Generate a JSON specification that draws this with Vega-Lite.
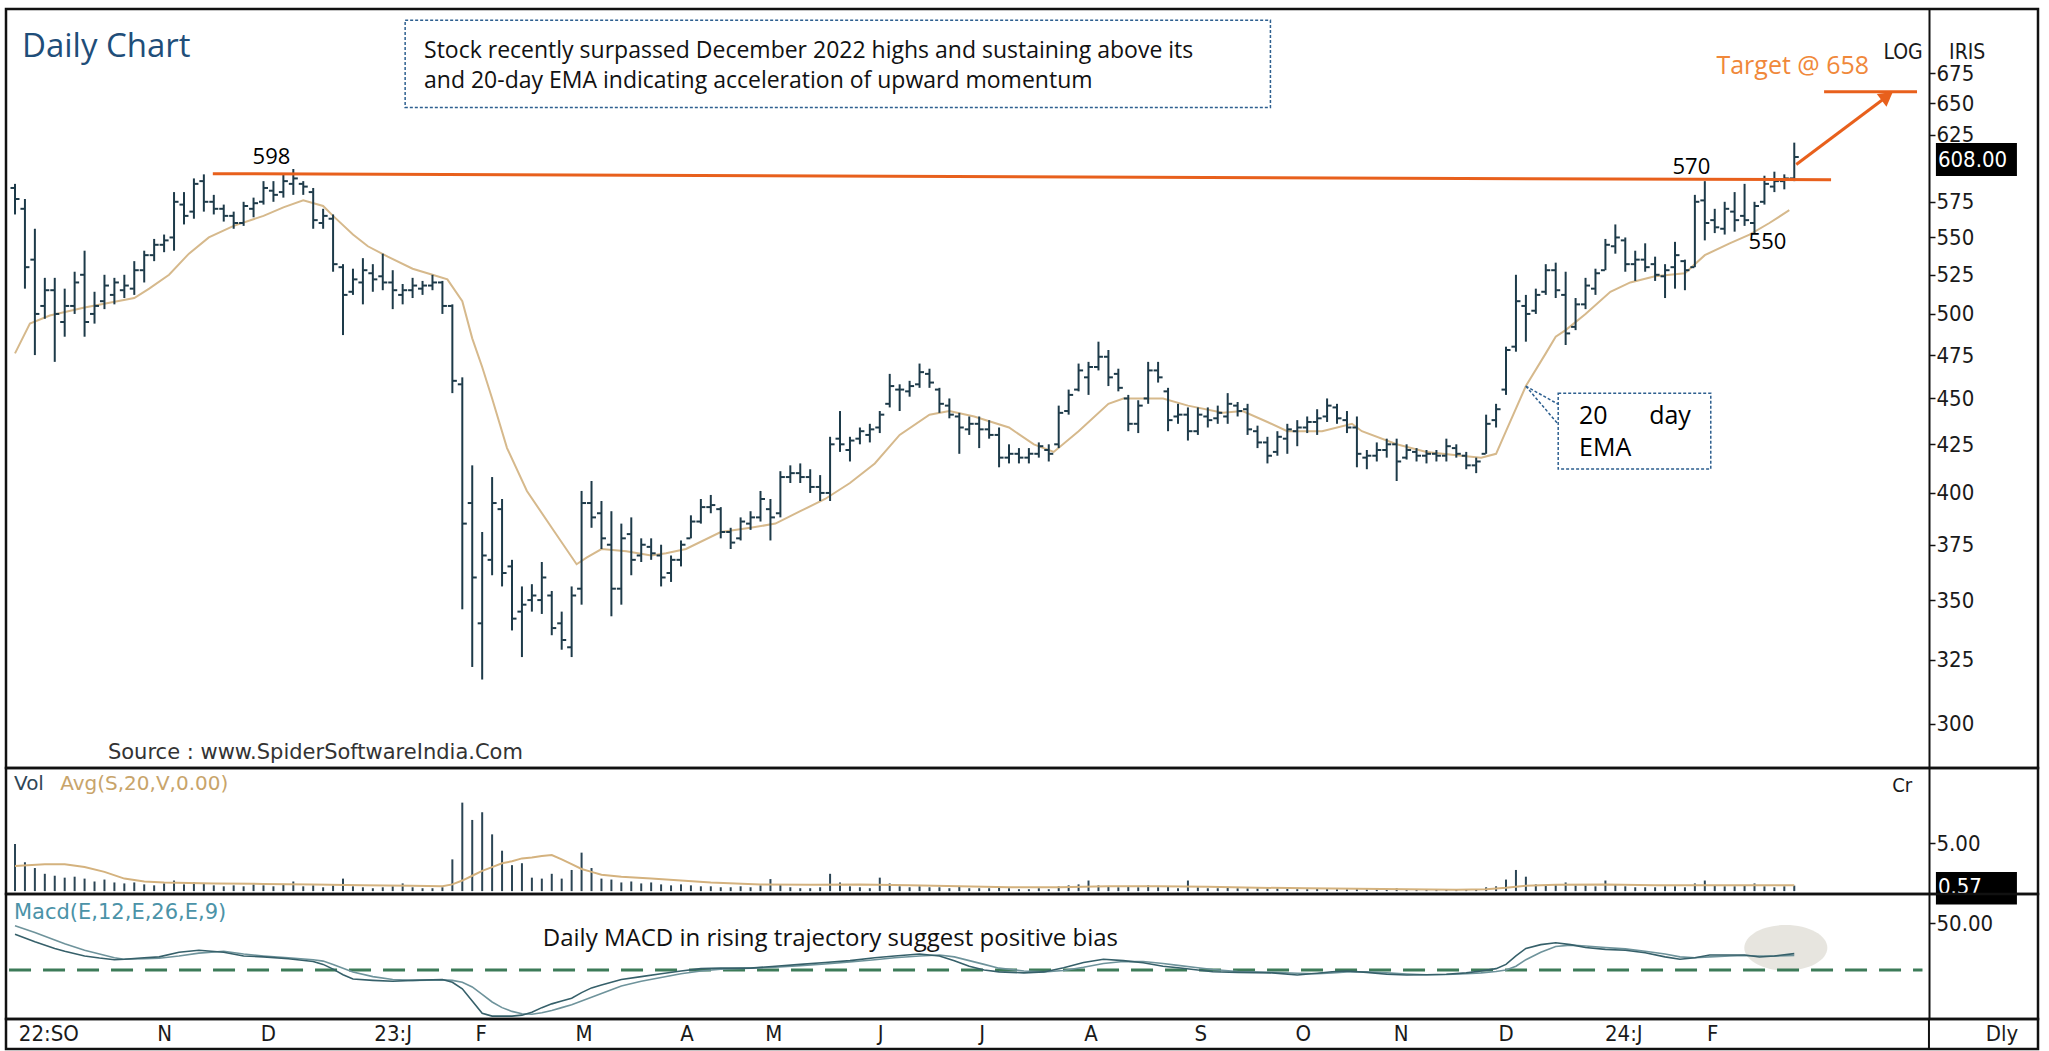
{
"$schema": "https://vega.github.io/schema/vega-lite/v6.json",
"background": "white",
"padding": {"left": 4, "top": 7, "right": 4, "bottom": 2},
"spacing": 0,
"bounds": "flush",
"config": {
  "view": {"stroke": "#111111", "strokeWidth": 2.5},
  "axis": {"labelFont": "DejaVu Sans Condensed, Liberation Sans Narrow, DejaVu Sans", "labelFontSize": 22, "labelColor": "#1a1a1a", "domainColor": "#111111", "domainWidth": 2, "tickColor": "#111111", "tickSize": 6, "tickWidth": 1.5, "labelPadding": 1, "grid": false, "labelOverlap": false, "labelFlush": false}
},
"datasets": {
  "bars": [
    {"t":0,"o":585,"h":588,"l":566,"c":577,"v":4.9},{"t":2,"o":570,"h":577,"l":516,"c":530,"v":3.0},{"t":4,"o":535,"h":556,"l":475,"c":500,"v":2.4},{"t":6,"o":505,"h":523,"l":497,"c":515,"v":1.8},{"t":8,"o":515,"h":523,"l":471,"c":500,"v":1.6},{"t":10,"o":495,"h":516,"l":486,"c":505,"v":1.4},{"t":12,"o":505,"h":527,"l":500,"c":520,"v":1.5},{"t":14,"o":525,"h":541,"l":486,"c":495,"v":1.3},{"t":16,"o":500,"h":514,"l":494,"c":505,"v":1.0},{"t":18,"o":508,"h":525,"l":503,"c":518,"v":1.2},
    {"t":20,"o":512,"h":523,"l":506,"c":520,"v":0.9},{"t":22,"o":515,"h":525,"l":510,"c":518,"v":0.8},{"t":24,"o":516,"h":534,"l":512,"c":528,"v":0.9},{"t":26,"o":528,"h":541,"l":520,"c":538,"v":0.7},{"t":28,"o":538,"h":549,"l":534,"c":545,"v":0.6},{"t":30,"o":545,"h":552,"l":540,"c":548,"v":0.8},{"t":32,"o":550,"h":582,"l":541,"c":575,"v":1.1},{"t":34,"o":573,"h":582,"l":559,"c":565,"v":0.7},{"t":36,"o":568,"h":592,"l":563,"c":588,"v":0.9},{"t":38,"o":590,"h":595,"l":568,"c":575,"v":0.8},
    {"t":40,"o":575,"h":580,"l":566,"c":570,"v":0.6},{"t":42,"o":570,"h":573,"l":561,"c":565,"v":0.5},{"t":44,"o":565,"h":568,"l":556,"c":560,"v":0.6},{"t":46,"o":560,"h":575,"l":558,"c":572,"v":0.5},{"t":48,"o":570,"h":578,"l":564,"c":574,"v":0.7},{"t":50,"o":575,"h":590,"l":573,"c":585,"v":0.6},{"t":52,"o":583,"h":590,"l":575,"c":580,"v":0.5},{"t":54,"o":582,"h":595,"l":578,"c":590,"v":0.7},{"t":56,"o":588,"h":599,"l":580,"c":592,"v":1.0},{"t":58,"o":588,"h":590,"l":580,"c":586,"v":0.5},
    {"t":60,"o":582,"h":585,"l":556,"c":562,"v":0.6},{"t":62,"o":560,"h":570,"l":556,"c":565,"v":0.4},{"t":64,"o":563,"h":566,"l":527,"c":532,"v":0.6},{"t":66,"o":530,"h":532,"l":487,"c":512,"v":1.3},{"t":68,"o":514,"h":529,"l":512,"c":522,"v":0.5},{"t":70,"o":520,"h":536,"l":506,"c":528,"v":0.4},{"t":72,"o":526,"h":532,"l":514,"c":522,"v":0.3},{"t":74,"o":524,"h":539,"l":515,"c":520,"v":0.4},{"t":76,"o":520,"h":528,"l":503,"c":515,"v":0.5},{"t":78,"o":512,"h":519,"l":506,"c":515,"v":0.8},
    {"t":80,"o":515,"h":523,"l":510,"c":518,"v":0.4},{"t":82,"o":516,"h":521,"l":512,"c":518,"v":0.3},{"t":84,"o":518,"h":525,"l":515,"c":520,"v":0.3},{"t":86,"o":520,"h":521,"l":500,"c":505,"v":0.4},{"t":88,"o":505,"h":506,"l":453,"c":460,"v":3.3},{"t":90,"o":458,"h":462,"l":346,"c":385,"v":9.2},{"t":92,"o":395,"h":414,"l":322,"c":360,"v":7.4},{"t":94,"o":340,"h":381,"l":317,"c":370,"v":8.2},{"t":96,"o":368,"h":408,"l":361,"c":395,"v":5.9},{"t":98,"o":392,"h":397,"l":356,"c":362,"v":4.2},
    {"t":100,"o":365,"h":368,"l":337,"c":342,"v":2.7},{"t":102,"o":345,"h":356,"l":326,"c":348,"v":2.9},{"t":104,"o":350,"h":357,"l":345,"c":352,"v":1.4},{"t":106,"o":350,"h":367,"l":344,"c":360,"v":1.3},{"t":108,"o":352,"h":354,"l":335,"c":338,"v":1.8},{"t":110,"o":340,"h":345,"l":329,"c":333,"v":1.3},{"t":112,"o":330,"h":356,"l":326,"c":352,"v":2.2},{"t":114,"o":355,"h":401,"l":348,"c":395,"v":4.0},{"t":116,"o":395,"h":406,"l":383,"c":388,"v":2.4},{"t":118,"o":390,"h":396,"l":373,"c":378,"v":1.3},
    {"t":120,"o":375,"h":391,"l":343,"c":355,"v":1.2},{"t":122,"o":355,"h":385,"l":348,"c":378,"v":0.9},{"t":124,"o":380,"h":388,"l":361,"c":368,"v":1.0},{"t":126,"o":370,"h":378,"l":367,"c":375,"v":0.8},{"t":128,"o":374,"h":378,"l":368,"c":371,"v":0.9},{"t":130,"o":370,"h":375,"l":356,"c":360,"v":0.7},{"t":132,"o":362,"h":370,"l":358,"c":368,"v":0.6},{"t":134,"o":368,"h":377,"l":365,"c":375,"v":0.7},{"t":136,"o":378,"h":389,"l":378,"c":386,"v":0.6},{"t":138,"o":386,"h":397,"l":385,"c":393,"v":0.5},
    {"t":140,"o":393,"h":399,"l":390,"c":394,"v":0.5},{"t":142,"o":392,"h":393,"l":378,"c":381,"v":0.4},{"t":144,"o":381,"h":383,"l":373,"c":376,"v":0.4},{"t":146,"o":378,"h":388,"l":377,"c":386,"v":0.5},{"t":148,"o":385,"h":391,"l":382,"c":388,"v":0.4},{"t":150,"o":388,"h":401,"l":386,"c":397,"v":0.6},{"t":152,"o":392,"h":397,"l":377,"c":388,"v":1.25},{"t":154,"o":390,"h":411,"l":388,"c":408,"v":0.7},{"t":156,"o":408,"h":414,"l":405,"c":410,"v":0.4},{"t":158,"o":410,"h":415,"l":405,"c":408,"v":0.3},
    {"t":160,"o":408,"h":412,"l":400,"c":403,"v":0.3},{"t":162,"o":403,"h":409,"l":396,"c":400,"v":0.4},{"t":164,"o":400,"h":429,"l":396,"c":425,"v":1.8},{"t":166,"o":428,"h":443,"l":421,"c":425,"v":0.9},{"t":168,"o":422,"h":429,"l":416,"c":427,"v":0.5},{"t":170,"o":428,"h":434,"l":425,"c":432,"v":0.4},{"t":172,"o":430,"h":436,"l":426,"c":433,"v":0.3},{"t":174,"o":434,"h":443,"l":431,"c":441,"v":1.4},{"t":176,"o":447,"h":464,"l":445,"c":457,"v":0.8},{"t":178,"o":455,"h":458,"l":443,"c":455,"v":0.5},
    {"t":180,"o":454,"h":460,"l":451,"c":457,"v":0.4},{"t":182,"o":458,"h":470,"l":456,"c":465,"v":0.5},{"t":184,"o":464,"h":467,"l":456,"c":459,"v":0.4},{"t":186,"o":455,"h":456,"l":442,"c":447,"v":0.4},{"t":188,"o":446,"h":450,"l":439,"c":441,"v":0.3},{"t":190,"o":440,"h":442,"l":420,"c":434,"v":0.5},{"t":192,"o":433,"h":440,"l":430,"c":436,"v":0.3},{"t":194,"o":436,"h":440,"l":423,"c":433,"v":0.3},{"t":196,"o":433,"h":438,"l":428,"c":430,"v":0.3},{"t":198,"o":430,"h":434,"l":413,"c":418,"v":0.4},
    {"t":200,"o":418,"h":425,"l":415,"c":420,"v":0.3},{"t":202,"o":420,"h":423,"l":415,"c":418,"v":0.2},{"t":204,"o":418,"h":423,"l":415,"c":420,"v":0.2},{"t":206,"o":420,"h":426,"l":418,"c":424,"v":0.3},{"t":208,"o":422,"h":425,"l":416,"c":420,"v":0.2},{"t":210,"o":425,"h":446,"l":423,"c":442,"v":0.5},{"t":212,"o":443,"h":455,"l":441,"c":452,"v":0.6},{"t":214,"o":455,"h":470,"l":454,"c":466,"v":0.7},{"t":216,"o":462,"h":471,"l":452,"c":468,"v":1.1},{"t":218,"o":468,"h":483,"l":466,"c":474,"v":0.6},
    {"t":220,"o":474,"h":478,"l":457,"c":462,"v":0.5},{"t":222,"o":464,"h":467,"l":454,"c":456,"v":0.4},{"t":224,"o":450,"h":452,"l":432,"c":436,"v":0.5},{"t":226,"o":436,"h":449,"l":431,"c":446,"v":0.4},{"t":228,"o":450,"h":471,"l":447,"c":466,"v":0.6},{"t":230,"o":466,"h":471,"l":459,"c":462,"v":0.4},{"t":232,"o":454,"h":456,"l":432,"c":438,"v":0.5},{"t":234,"o":440,"h":447,"l":436,"c":441,"v":0.3},{"t":236,"o":441,"h":445,"l":427,"c":432,"v":1.1},{"t":238,"o":432,"h":445,"l":430,"c":441,"v":0.4},
    {"t":240,"o":440,"h":445,"l":434,"c":438,"v":0.3},{"t":242,"o":439,"h":446,"l":436,"c":442,"v":0.3},{"t":244,"o":440,"h":453,"l":436,"c":447,"v":0.4},{"t":246,"o":446,"h":448,"l":440,"c":443,"v":0.3},{"t":248,"o":444,"h":447,"l":430,"c":433,"v":0.3},{"t":250,"o":432,"h":435,"l":423,"c":426,"v":0.3},{"t":252,"o":426,"h":429,"l":415,"c":419,"v":0.4},{"t":254,"o":421,"h":432,"l":419,"c":429,"v":0.3},{"t":256,"o":428,"h":436,"l":420,"c":433,"v":0.3},{"t":258,"o":432,"h":438,"l":424,"c":434,"v":0.2},
    {"t":260,"o":434,"h":440,"l":431,"c":437,"v":0.2},{"t":262,"o":437,"h":444,"l":430,"c":439,"v":0.3},{"t":264,"o":440,"h":450,"l":437,"c":446,"v":0.3},{"t":266,"o":445,"h":447,"l":436,"c":439,"v":0.2},{"t":268,"o":438,"h":443,"l":431,"c":434,"v":0.2},{"t":270,"o":434,"h":440,"l":413,"c":420,"v":0.3},{"t":272,"o":418,"h":422,"l":412,"c":419,"v":0.2},{"t":274,"o":419,"h":426,"l":416,"c":422,"v":0.2},{"t":276,"o":422,"h":428,"l":418,"c":425,"v":0.2},{"t":278,"o":425,"h":428,"l":406,"c":416,"v":0.3},
    {"t":280,"o":418,"h":425,"l":417,"c":422,"v":0.1},{"t":282,"o":421,"h":423,"l":416,"c":419,"v":0.1},{"t":284,"o":419,"h":422,"l":415,"c":420,"v":0.1},{"t":286,"o":420,"h":422,"l":416,"c":419,"v":0.1},{"t":288,"o":419,"h":428,"l":416,"c":424,"v":0.2},{"t":290,"o":423,"h":425,"l":418,"c":420,"v":0.1},{"t":292,"o":419,"h":421,"l":412,"c":414,"v":0.1},{"t":294,"o":414,"h":418,"l":410,"c":416,"v":0.2},{"t":296,"o":420,"h":441,"l":420,"c":436,"v":0.4},{"t":298,"o":438,"h":447,"l":434,"c":444,"v":0.5},
    {"t":300,"o":455,"h":480,"l":452,"c":478,"v":1.2},{"t":302,"o":480,"h":525,"l":477,"c":508,"v":2.2},{"t":304,"o":505,"h":512,"l":483,"c":500,"v":1.5},{"t":306,"o":502,"h":516,"l":500,"c":512,"v":0.7},{"t":308,"o":514,"h":532,"l":512,"c":528,"v":0.6},{"t":310,"o":528,"h":533,"l":510,"c":515,"v":0.7},{"t":312,"o":512,"h":527,"l":481,"c":488,"v":0.9},{"t":314,"o":492,"h":510,"l":490,"c":506,"v":0.6},{"t":316,"o":506,"h":523,"l":503,"c":518,"v":0.6},{"t":318,"o":516,"h":529,"l":512,"c":526,"v":0.5},
    {"t":320,"o":528,"h":549,"l":528,"c":545,"v":1.1},{"t":322,"o":544,"h":559,"l":539,"c":550,"v":0.7},{"t":324,"o":548,"h":550,"l":527,"c":532,"v":0.5},{"t":326,"o":532,"h":541,"l":521,"c":535,"v":0.4},{"t":328,"o":535,"h":546,"l":527,"c":530,"v":0.4},{"t":330,"o":532,"h":537,"l":521,"c":525,"v":0.4},{"t":332,"o":524,"h":532,"l":510,"c":528,"v":0.5},{"t":334,"o":530,"h":547,"l":516,"c":538,"v":0.5},{"t":336,"o":534,"h":535,"l":515,"c":528,"v":0.4},{"t":338,"o":530,"h":580,"l":530,"c":575,"v":0.8},
    {"t":340,"o":576,"h":590,"l":548,"c":560,"v":1.1},{"t":342,"o":562,"h":570,"l":553,"c":557,"v":0.6},{"t":344,"o":556,"h":575,"l":552,"c":570,"v":0.5},{"t":346,"o":568,"h":582,"l":554,"c":562,"v":0.5},{"t":348,"o":565,"h":588,"l":558,"c":562,"v":0.6},{"t":350,"o":560,"h":575,"l":553,"c":572,"v":0.8},{"t":352,"o":575,"h":594,"l":573,"c":588,"v":0.5},{"t":354,"o":586,"h":597,"l":582,"c":590,"v":0.4},{"t":356,"o":590,"h":595,"l":584,"c":592,"v":0.5},{"t":358,"o":592,"h":619,"l":590,"c":608,"v":0.57}
  ],
  "ema": [
    {"t":0,"e":476},{"t":3,"e":494},{"t":7,"e":499},{"t":14,"e":504},{"t":19,"e":507},{"t":24,"e":510},{"t":27,"e":516},{"t":31,"e":525},{"t":35,"e":539},{"t":39,"e":550},{"t":44,"e":558},{"t":50,"e":565},{"t":54,"e":571},{"t":58,"e":576},{"t":62,"e":572},{"t":64,"e":565},{"t":68,"e":552},{"t":71,"e":544},{"t":75,"e":537},{"t":80,"e":529},{"t":84,"e":525},{"t":87,"e":522},{"t":90,"e":508},{"t":92,"e":485},{"t":94,"e":468},{"t":96,"e":450},{"t":99,"e":423},{"t":103,"e":401},{"t":108,"e":383},{"t":113,"e":366},{"t":115,"e":369},{"t":118,"e":373},{"t":123,"e":372},{"t":128,"e":370},{"t":131,"e":371},{"t":135,"e":373},{"t":142,"e":381},{"t":148,"e":383},{"t":153,"e":385},{"t":158,"e":391},{"t":163,"e":397},{"t":168,"e":405},{"t":173,"e":415},{"t":178,"e":430},{"t":184,"e":441},{"t":188,"e":443},{"t":193,"e":440},{"t":200,"e":434},{"t":205,"e":425},{"t":209,"e":421},{"t":214,"e":432},{"t":220,"e":447},{"t":223,"e":450},{"t":228,"e":450},{"t":231,"e":450},{"t":236,"e":446},{"t":243,"e":442},{"t":247,"e":443},{"t":252,"e":437},{"t":256,"e":432},{"t":263,"e":432},{"t":269,"e":436},{"t":271,"e":432},{"t":278,"e":425},{"t":284,"e":421},{"t":291,"e":419},{"t":295,"e":418},{"t":298,"e":420},{"t":300,"e":432},{"t":304,"e":457},{"t":308,"e":476},{"t":310,"e":486},{"t":312,"e":490},{"t":316,"e":500},{"t":321,"e":514},{"t":325,"e":520},{"t":330,"e":524},{"t":336,"e":526},{"t":340,"e":538},{"t":345,"e":546},{"t":349,"e":552},{"t":353,"e":560},{"t":357,"e":569}
  ],
  "vavg": [
    {"t":0,"va":2.6},{"t":6,"va":2.8},{"t":10,"va":2.8},{"t":14,"va":2.5},{"t":18,"va":2.0},{"t":22,"va":1.3},{"t":26,"va":1.0},{"t":30,"va":0.9},{"t":40,"va":0.8},{"t":50,"va":0.75},{"t":60,"va":0.7},{"t":70,"va":0.6},{"t":80,"va":0.55},{"t":86,"va":0.5},{"t":88,"va":0.7},{"t":90,"va":1.1},{"t":92,"va":1.6},{"t":94,"va":2.1},{"t":96,"va":2.5},{"t":98,"va":2.9},{"t":100,"va":3.1},{"t":102,"va":3.4},{"t":104,"va":3.5},{"t":106,"va":3.65},{"t":108,"va":3.75},{"t":110,"va":3.3},{"t":112,"va":2.8},{"t":114,"va":2.3},{"t":116,"va":2.0},{"t":118,"va":1.7},{"t":122,"va":1.5},{"t":128,"va":1.3},{"t":134,"va":1.1},{"t":140,"va":0.9},{"t":150,"va":0.7},{"t":160,"va":0.65},{"t":170,"va":0.7},{"t":180,"va":0.6},{"t":190,"va":0.5},{"t":200,"va":0.4},{"t":210,"va":0.4},{"t":220,"va":0.5},{"t":230,"va":0.5},{"t":240,"va":0.45},{"t":250,"va":0.35},{"t":260,"va":0.3},{"t":270,"va":0.25},{"t":280,"va":0.2},{"t":290,"va":0.15},{"t":296,"va":0.2},{"t":300,"va":0.35},{"t":304,"va":0.55},{"t":310,"va":0.65},{"t":320,"va":0.7},{"t":330,"va":0.6},{"t":340,"va":0.6},{"t":350,"va":0.6},{"t":358,"va":0.6}
  ],
  "macd": [
    {"t":0,"m":38,"s":47},{"t":4,"m":30,"s":40},{"t":8,"m":23,"s":32},{"t":10,"m":20,"s":28},{"t":14,"m":15,"s":21},{"t":17,"m":12.8,"s":17},{"t":20,"m":11,"s":13},{"t":22,"m":11.5,"s":11.5},{"t":26,"m":13,"s":12},{"t":29,"m":14,"s":12.5},{"t":33,"m":19,"s":15},{"t":37,"m":21,"s":18},{"t":42,"m":19,"s":20},{"t":46,"m":15,"s":17},{"t":50,"m":14,"s":15},{"t":55,"m":12,"s":13},{"t":60,"m":9,"s":11},{"t":62,"m":6,"s":9.5},{"t":64,"m":1,"s":6},{"t":66,"m":-5,"s":2},{"t":68,"m":-9.6,"s":-2},{"t":72,"m":-11,"s":-7},{"t":76,"m":-12,"s":-10},{"t":80,"m":-11,"s":-11},{"t":86,"m":-10,"s":-10.5},{"t":88,"m":-13,"s":-11},{"t":90,"m":-20,"s":-13},{"t":92,"m":-33,"s":-18},{"t":94,"m":-46,"s":-26},{"t":96,"m":-49,"s":-34},{"t":98,"m":-49,"s":-40},{"t":100,"m":-49,"s":-44},{"t":102,"m":-48,"s":-46.5},{"t":104,"m":-45,"s":-47},{"t":106,"m":-40,"s":-45.5},{"t":108,"m":-36,"s":-43},{"t":110,"m":-33,"s":-40},{"t":112,"m":-30,"s":-37},{"t":114,"m":-24,"s":-33},{"t":116,"m":-19,"s":-29},{"t":118,"m":-16,"s":-25},{"t":120,"m":-13,"s":-21},{"t":122,"m":-10,"s":-17},{"t":126,"m":-7,"s":-12},{"t":130,"m":-4,"s":-8},{"t":134,"m":-1,"s":-4},{"t":138,"m":1.5,"s":-1},{"t":142,"m":2,"s":1},{"t":148,"m":2,"s":2},{"t":153,"m":4,"s":3},{"t":158,"m":6,"s":4.5},{"t":163,"m":8,"s":6.5},{"t":168,"m":10,"s":8.5},{"t":173,"m":13,"s":11},{"t":177,"m":15,"s":13},{"t":182,"m":17,"s":15},{"t":186,"m":15,"s":16},{"t":189,"m":10,"s":14},{"t":192,"m":4,"s":10},{"t":195,"m":0,"s":6},{"t":198,"m":-2,"s":2},{"t":203,"m":-3,"s":-1},{"t":207,"m":-2,"s":-2},{"t":211,"m":2.5,"s":-0.5},{"t":215,"m":8,"s":3},{"t":219,"m":11.5,"s":7},{"t":223,"m":10,"s":9},{"t":227,"m":7.8,"s":9},{"t":231,"m":4,"s":7},{"t":234,"m":2.5,"s":5},{"t":238,"m":0,"s":2.5},{"t":241,"m":-1.8,"s":0.5},{"t":246,"m":-2.5,"s":-1.5},{"t":253,"m":-3,"s":-2.5},{"t":258,"m":-5.3,"s":-3.5},{"t":262,"m":-3.5,"s":-4},{"t":265,"m":-1.8,"s":-3},{"t":268,"m":-1,"s":-2},{"t":272,"m":-2.5,"s":-2},{"t":276,"m":-4.5,"s":-3},{"t":280,"m":-5.3,"s":-4.2},{"t":284,"m":-5,"s":-5},{"t":288,"m":-4.5,"s":-4.8},{"t":292,"m":-3,"s":-4},{"t":295,"m":-1,"s":-3},{"t":298,"m":1.5,"s":-1.5},{"t":300,"m":6,"s":0},{"t":302,"m":15,"s":4},{"t":304,"m":23,"s":11},{"t":307,"m":27,"s":19},{"t":310,"m":29,"s":25},{"t":313,"m":27,"s":26.5},{"t":316,"m":24,"s":25.5},{"t":320,"m":22,"s":24},{"t":324,"m":21,"s":22.5},{"t":328,"m":18.4,"s":20},{"t":332,"m":14,"s":17},{"t":335,"m":11.5,"s":14},{"t":338,"m":13,"s":13},{"t":341,"m":16,"s":14},{"t":345,"m":16,"s":15},{"t":348,"m":16,"s":15.5},{"t":351,"m":13.8,"s":15},{"t":354,"m":15,"s":14.8},{"t":358,"m":17.5,"s":15.5}
  ],
  "boxes": [
    {"k":"hdr","t":78.5,"t2":252.6,"y":646.8,"y2":721.0},
    {"k":"ema","t":310.5,"t2":341.2,"y":412.1,"y2":452.9},
    {"k":"last","t":386.5,"t2":402.8,"y":593.8,"y2":618.7},
    {"k":"lastv","t":386.5,"t2":402.8,"y":-1.4,"y2":2.0}
  ],
  "segs": [
    {"k":"res","t":39.8,"y":595.5,"t2":365.4,"y2":591.0},
    {"k":"res","t":364.0,"y":659.6,"t2":382.7,"y2":659.6},
    {"k":"res","t":358.4,"y":602.4,"t2":376.7,"y2":655.9},
    {"k":"ptr","t":304.0,"y":456.9,"t2":310.5,"y2":446.8},
    {"k":"ptr","t":304.0,"y":456.9,"t2":310.5,"y2":435.8},
    {"k":"zero","t":-1.2,"t2":383.8,"y":0,"y2":0},
    {"k":"vax","t":385.1}
  ],
  "notes": [
    {"k":"title","t":1.4,"y":697.7,"s":"Daily Chart"},
    {"k":"head","t":82.3,"y":694.2,"s":"Stock recently surpassed December 2022 highs and sustaining above its"},
    {"k":"head","t":82.3,"y":668.7,"s":"and 20-day EMA indicating acceleration of upward momentum"},
    {"k":"lvl","t":51.6,"y":608,"s":"598"},
    {"k":"lvl","t":337.3,"y":600.5,"s":"570"},
    {"k":"lvl","t":352.6,"y":546.6,"s":"550"},
    {"k":"tgt","t":357.7,"y":681,"s":"Target @ 658"},
    {"k":"emaL","t":314.7,"y":440.4,"s":"20"},
    {"k":"emaL","t":314.7,"y":423.1,"s":"EMA"},
    {"k":"emaR","t":337.2,"y":440.4,"s":"day"},
    {"k":"ax","t":379.9,"y":692.5,"s":"LOG"},
    {"k":"ax","t":392.8,"y":692.5,"s":"IRIS"},
    {"k":"last","t":386.9,"y":605.9,"s":"608.00"},
    {"k":"src","t":18.7,"y":289.3,"s":"Source : www.SpiderSoftwareIndia.Com"},
    {"k":"vol","t":-0.2,"y":11.1,"s":"Vol"},
    {"k":"avg","t":9.1,"y":11.1,"s":"Avg(S,20,V,0.00)"},
    {"k":"cr","t":379.7,"y":10.9,"s":"Cr"},
    {"k":"lastv","t":386.9,"y":0.4,"s":"0.57"},
    {"k":"macdL","t":-0.2,"y":61,"s":"Macd(E,12,E,26,E,9)"},
    {"k":"mtxt","t":106.2,"y":33,"s":"Daily MACD in rising trajectory suggest positive bias"},
    {"k":"hl","t":356.3,"y":23.7,"s":""},
    {"k":"arrow","t":376.7,"y":655.9,"s":""},
    {"k":"dly","t":399.8,"s":"Dly"},
    {"k":"mon","t":6.8,"s":"22:SO"},{"k":"mon","t":30.1,"s":"N"},{"k":"mon","t":51.0,"s":"D"},{"k":"mon","t":76.1,"s":"23:J"},{"k":"mon","t":93.8,"s":"F"},{"k":"mon","t":114.5,"s":"M"},{"k":"mon","t":135.2,"s":"A"},{"k":"mon","t":152.7,"s":"M"},{"k":"mon","t":174.2,"s":"J"},{"k":"mon","t":194.6,"s":"J"},{"k":"mon","t":216.5,"s":"A"},{"k":"mon","t":238.6,"s":"S"},{"k":"mon","t":259.2,"s":"O"},{"k":"mon","t":278.9,"s":"N"},{"k":"mon","t":300.0,"s":"D"},{"k":"mon","t":323.7,"s":"24:J"},{"k":"mon","t":341.6,"s":"F"}
  ]
},
"vconcat": [
  {
    "width": 2032, "height": 759,
    "encoding": {"x": {"field": "t", "type": "quantitative", "scale": {"domain": [-1.81, 407.04], "nice": false, "zero": false, "padding": 0}, "axis": null}},
    "layer": [
      {"data": {"name": "ema"}, "mark": {"type": "line", "color": "#D6B98C", "strokeWidth": 2},
       "encoding": {"y": {"field": "e", "type": "quantitative", "title": null, "scale": {"type": "log", "domain": [283.9, 731.2], "nice": false}, "axis": {"orient": "right", "offset": -109, "title": null, "format": "d", "values": [300,325,350,375,400,425,450,475,500,525,550,575,625,650,675]}}}},
      {"data": {"name": "bars"}, "mark": {"type": "rule", "color": "#1D3A49", "strokeWidth": 2},
       "encoding": {"y": {"field": "l", "type": "quantitative", "title": null, "scale": {"type": "log", "domain": [283.9, 731.2], "nice": false}}, "y2": {"field": "h"}}},
      {"data": {"name": "bars"}, "mark": {"type": "tick", "orient": "horizontal", "size": 4, "thickness": 2, "xOffset": -2.5, "color": "#1D3A49", "opacity": 1},
       "encoding": {"y": {"field": "o", "type": "quantitative", "title": null, "scale": {"type": "log", "domain": [283.9, 731.2], "nice": false}}}},
      {"data": {"name": "bars"}, "mark": {"type": "tick", "orient": "horizontal", "size": 4, "thickness": 2, "xOffset": 2.5, "color": "#1D3A49", "opacity": 1},
       "encoding": {"y": {"field": "c", "type": "quantitative", "title": null, "scale": {"type": "log", "domain": [283.9, 731.2], "nice": false}}}},
      {"data": {"name": "boxes"}, "transform": [{"filter": "datum.k == 'hdr' || datum.k == 'ema'"}],
       "mark": {"type": "rect", "fill": "white", "stroke": "#2D5F8F", "strokeWidth": 1.5, "strokeDash": [3, 2]},
       "encoding": {"x2": {"field": "t2"}, "y": {"field": "y", "type": "quantitative", "title": null, "scale": {"type": "log", "domain": [283.9, 731.2], "nice": false}}, "y2": {"field": "y2"}}},
      {"data": {"name": "boxes"}, "transform": [{"filter": "datum.k == 'last'"}],
       "mark": {"type": "rect", "fill": "#000000"},
       "encoding": {"x2": {"field": "t2"}, "y": {"field": "y", "type": "quantitative", "title": null, "scale": {"type": "log", "domain": [283.9, 731.2], "nice": false}}, "y2": {"field": "y2"}}},
      {"data": {"name": "segs"}, "transform": [{"filter": "datum.k == 'res'"}],
       "mark": {"type": "rule", "color": "#E8601C", "strokeWidth": 3},
       "encoding": {"x2": {"field": "t2"}, "y": {"field": "y", "type": "quantitative", "title": null, "scale": {"type": "log", "domain": [283.9, 731.2], "nice": false}}, "y2": {"field": "y2"}}},
      {"data": {"name": "segs"}, "transform": [{"filter": "datum.k == 'ptr'"}],
       "mark": {"type": "rule", "color": "#2D5F8F", "strokeWidth": 1.5, "strokeDash": [3, 2]},
       "encoding": {"x2": {"field": "t2"}, "y": {"field": "y", "type": "quantitative", "title": null, "scale": {"type": "log", "domain": [283.9, 731.2], "nice": false}}, "y2": {"field": "y2"}}},
      {"data": {"name": "notes"}, "transform": [{"filter": "datum.k == 'arrow'"}],
       "mark": {"type": "point", "shape": "triangle-up", "angle": 53, "size": 260, "filled": true, "color": "#E8601C", "opacity": 1},
       "encoding": {"y": {"field": "y", "type": "quantitative", "title": null, "scale": {"type": "log", "domain": [283.9, 731.2], "nice": false}}}},
      {"data": {"name": "notes"}, "transform": [{"filter": "datum.k == 'title'"}],
       "mark": {"type": "text", "align": "left", "baseline": "middle", "font": "Open Sans", "fontSize": 33, "color": "#1F4E79"},
       "encoding": {"y": {"field": "y", "type": "quantitative", "title": null, "scale": {"type": "log", "domain": [283.9, 731.2], "nice": false}}, "text": {"field": "s"}}},
      {"data": {"name": "notes"}, "transform": [{"filter": "datum.k == 'head'"}],
       "mark": {"type": "text", "align": "left", "baseline": "middle", "font": "Open Sans", "fontSize": 23, "color": "#111111"},
       "encoding": {"y": {"field": "y", "type": "quantitative", "title": null, "scale": {"type": "log", "domain": [283.9, 731.2], "nice": false}}, "text": {"field": "s"}}},
      {"data": {"name": "notes"}, "transform": [{"filter": "datum.k == 'lvl'"}],
       "mark": {"type": "text", "align": "center", "baseline": "middle", "font": "Open Sans", "fontSize": 22, "color": "#000000"},
       "encoding": {"y": {"field": "y", "type": "quantitative", "title": null, "scale": {"type": "log", "domain": [283.9, 731.2], "nice": false}}, "text": {"field": "s"}}},
      {"data": {"name": "notes"}, "transform": [{"filter": "datum.k == 'tgt'"}],
       "mark": {"type": "text", "align": "center", "baseline": "middle", "font": "Open Sans", "fontSize": 25, "color": "#F0883A"},
       "encoding": {"y": {"field": "y", "type": "quantitative", "title": null, "scale": {"type": "log", "domain": [283.9, 731.2], "nice": false}}, "text": {"field": "s"}}},
      {"data": {"name": "notes"}, "transform": [{"filter": "datum.k == 'emaL'"}],
       "mark": {"type": "text", "align": "left", "baseline": "middle", "font": "Open Sans", "fontSize": 25, "color": "#000000"},
       "encoding": {"y": {"field": "y", "type": "quantitative", "title": null, "scale": {"type": "log", "domain": [283.9, 731.2], "nice": false}}, "text": {"field": "s"}}},
      {"data": {"name": "notes"}, "transform": [{"filter": "datum.k == 'emaR'"}],
       "mark": {"type": "text", "align": "right", "baseline": "middle", "font": "Open Sans", "fontSize": 25, "color": "#000000"},
       "encoding": {"y": {"field": "y", "type": "quantitative", "title": null, "scale": {"type": "log", "domain": [283.9, 731.2], "nice": false}}, "text": {"field": "s"}}},
      {"data": {"name": "notes"}, "transform": [{"filter": "datum.k == 'ax'"}],
       "mark": {"type": "text", "align": "center", "baseline": "middle", "font": "DejaVu Sans Condensed, Liberation Sans Narrow, DejaVu Sans", "fontSize": 21, "color": "#1a1a1a"},
       "encoding": {"y": {"field": "y", "type": "quantitative", "title": null, "scale": {"type": "log", "domain": [283.9, 731.2], "nice": false}}, "text": {"field": "s"}}},
      {"data": {"name": "notes"}, "transform": [{"filter": "datum.k == 'last'"}],
       "mark": {"type": "text", "align": "left", "baseline": "middle", "font": "DejaVu Sans Condensed, Liberation Sans Narrow, DejaVu Sans", "fontSize": 22, "color": "#ffffff"},
       "encoding": {"y": {"field": "y", "type": "quantitative", "title": null, "scale": {"type": "log", "domain": [283.9, 731.2], "nice": false}}, "text": {"field": "s"}}},
      {"data": {"name": "notes"}, "transform": [{"filter": "datum.k == 'src'"}],
       "mark": {"type": "text", "align": "left", "baseline": "middle", "font": "DejaVu Sans", "fontSize": 21, "color": "#333333"},
       "encoding": {"y": {"field": "y", "type": "quantitative", "title": null, "scale": {"type": "log", "domain": [283.9, 731.2], "nice": false}}, "text": {"field": "s"}}}
    ]
  },
  {
    "width": 2032, "height": 126,
    "encoding": {"x": {"field": "t", "type": "quantitative", "scale": {"domain": [-1.81, 407.04], "nice": false, "zero": false, "padding": 0}, "axis": null}},
    "layer": [
      {"data": {"name": "bars"}, "mark": {"type": "rule", "color": "#2B4555", "strokeWidth": 2},
       "encoding": {"y": {"field": "v", "type": "quantitative", "title": null, "scale": {"domain": [-0.3, 12.8], "nice": false, "zero": false}, "axis": {"orient": "right", "offset": -109, "title": null, "format": ".2f", "values": [5]}}, "y2": {"datum": 0}}},
      {"data": {"name": "vavg"}, "mark": {"type": "line", "color": "#D4B27E", "strokeWidth": 2},
       "encoding": {"y": {"field": "va", "type": "quantitative", "title": null, "scale": {"domain": [-0.3, 12.8], "nice": false, "zero": false}}}},
      {"data": {"name": "boxes"}, "transform": [{"filter": "datum.k == 'lastv'"}],
       "mark": {"type": "rect", "fill": "#000000"},
       "encoding": {"x2": {"field": "t2"}, "y": {"field": "y", "type": "quantitative", "title": null, "scale": {"domain": [-0.3, 12.8], "nice": false, "zero": false}}, "y2": {"field": "y2"}}},
      {"data": {"name": "notes"}, "transform": [{"filter": "datum.k == 'vol'"}],
       "mark": {"type": "text", "align": "left", "baseline": "middle", "font": "DejaVu Sans", "fontSize": 20, "color": "#2F4656"},
       "encoding": {"y": {"field": "y", "type": "quantitative", "title": null, "scale": {"domain": [-0.3, 12.8], "nice": false, "zero": false}}, "text": {"field": "s"}}},
      {"data": {"name": "notes"}, "transform": [{"filter": "datum.k == 'avg'"}],
       "mark": {"type": "text", "align": "left", "baseline": "middle", "font": "DejaVu Sans", "fontSize": 20, "color": "#C8A46A"},
       "encoding": {"y": {"field": "y", "type": "quantitative", "title": null, "scale": {"domain": [-0.3, 12.8], "nice": false, "zero": false}}, "text": {"field": "s"}}},
      {"data": {"name": "notes"}, "transform": [{"filter": "datum.k == 'cr'"}],
       "mark": {"type": "text", "align": "center", "baseline": "middle", "font": "DejaVu Sans Condensed, Liberation Sans Narrow, DejaVu Sans", "fontSize": 20, "color": "#1a1a1a"},
       "encoding": {"y": {"field": "y", "type": "quantitative", "title": null, "scale": {"domain": [-0.3, 12.8], "nice": false, "zero": false}}, "text": {"field": "s"}}},
      {"data": {"name": "notes"}, "transform": [{"filter": "datum.k == 'lastv'"}],
       "mark": {"type": "text", "align": "left", "baseline": "middle", "font": "DejaVu Sans Condensed, Liberation Sans Narrow, DejaVu Sans", "fontSize": 22, "color": "#ffffff"},
       "encoding": {"y": {"field": "y", "type": "quantitative", "title": null, "scale": {"domain": [-0.3, 12.8], "nice": false, "zero": false}}, "text": {"field": "s"}}}
    ]
  },
  {
    "width": 2032, "height": 125,
    "encoding": {"x": {"field": "t", "type": "quantitative", "scale": {"domain": [-1.81, 407.04], "nice": false, "zero": false, "padding": 0}, "axis": null}},
    "layer": [
      {"data": {"name": "notes"}, "transform": [{"filter": "datum.k == 'hl'"}],
       "mark": {"type": "point", "shape": "M -1 0 A 1 0.55 0 1 1 1 0 A 1 0.55 0 1 1 -1 0 Z", "size": 6900, "filled": true, "color": "#E4E2DC", "opacity": 0.9, "strokeWidth": 0},
       "encoding": {"y": {"field": "y", "type": "quantitative", "title": null, "scale": {"domain": [-52.1, 80.9], "nice": false, "zero": false}, "axis": {"orient": "right", "offset": -109, "title": null, "format": ".2f", "values": [50]}}}},
      {"data": {"name": "segs"}, "transform": [{"filter": "datum.k == 'zero'"}],
       "mark": {"type": "rule", "color": "#3C7B58", "strokeWidth": 3, "strokeDash": [22, 12]},
       "encoding": {"x2": {"field": "t2"}, "y": {"field": "y", "type": "quantitative", "title": null, "scale": {"domain": [-52.1, 80.9], "nice": false, "zero": false}}}},
      {"data": {"name": "macd"}, "mark": {"type": "line", "color": "#6E939B", "strokeWidth": 1.6},
       "encoding": {"y": {"field": "s", "type": "quantitative", "title": null, "scale": {"domain": [-52.1, 80.9], "nice": false, "zero": false}}}},
      {"data": {"name": "macd"}, "mark": {"type": "line", "color": "#36606A", "strokeWidth": 1.6},
       "encoding": {"y": {"field": "m", "type": "quantitative", "title": null, "scale": {"domain": [-52.1, 80.9], "nice": false, "zero": false}}}},
      {"data": {"name": "notes"}, "transform": [{"filter": "datum.k == 'macdL'"}],
       "mark": {"type": "text", "align": "left", "baseline": "middle", "font": "DejaVu Sans", "fontSize": 21, "color": "#4B93A8"},
       "encoding": {"y": {"field": "y", "type": "quantitative", "title": null, "scale": {"domain": [-52.1, 80.9], "nice": false, "zero": false}}, "text": {"field": "s"}}},
      {"data": {"name": "notes"}, "transform": [{"filter": "datum.k == 'mtxt'"}],
       "mark": {"type": "text", "align": "left", "baseline": "middle", "font": "Open Sans", "fontSize": 24, "color": "#111111"},
       "encoding": {"y": {"field": "y", "type": "quantitative", "title": null, "scale": {"domain": [-52.1, 80.9], "nice": false, "zero": false}}, "text": {"field": "s"}}}
    ]
  },
  {
    "width": 2032, "height": 30,
    "encoding": {"x": {"field": "t", "type": "quantitative", "scale": {"domain": [-1.81, 407.04], "nice": false, "zero": false, "padding": 0}, "axis": null}},
    "layer": [
      {"data": {"name": "segs"}, "transform": [{"filter": "datum.k == 'vax'"}],
       "mark": {"type": "rule", "color": "#111111", "strokeWidth": 2}, "encoding": {}},
      {"data": {"name": "notes"}, "transform": [{"filter": "datum.k == 'mon' || datum.k == 'dly'"}],
       "mark": {"type": "text", "align": "center", "baseline": "middle", "font": "DejaVu Sans Condensed, Liberation Sans Narrow, DejaVu Sans", "fontSize": 22, "color": "#1a1a1a"},
       "encoding": {"text": {"field": "s"}}}
    ]
  }
]
}
